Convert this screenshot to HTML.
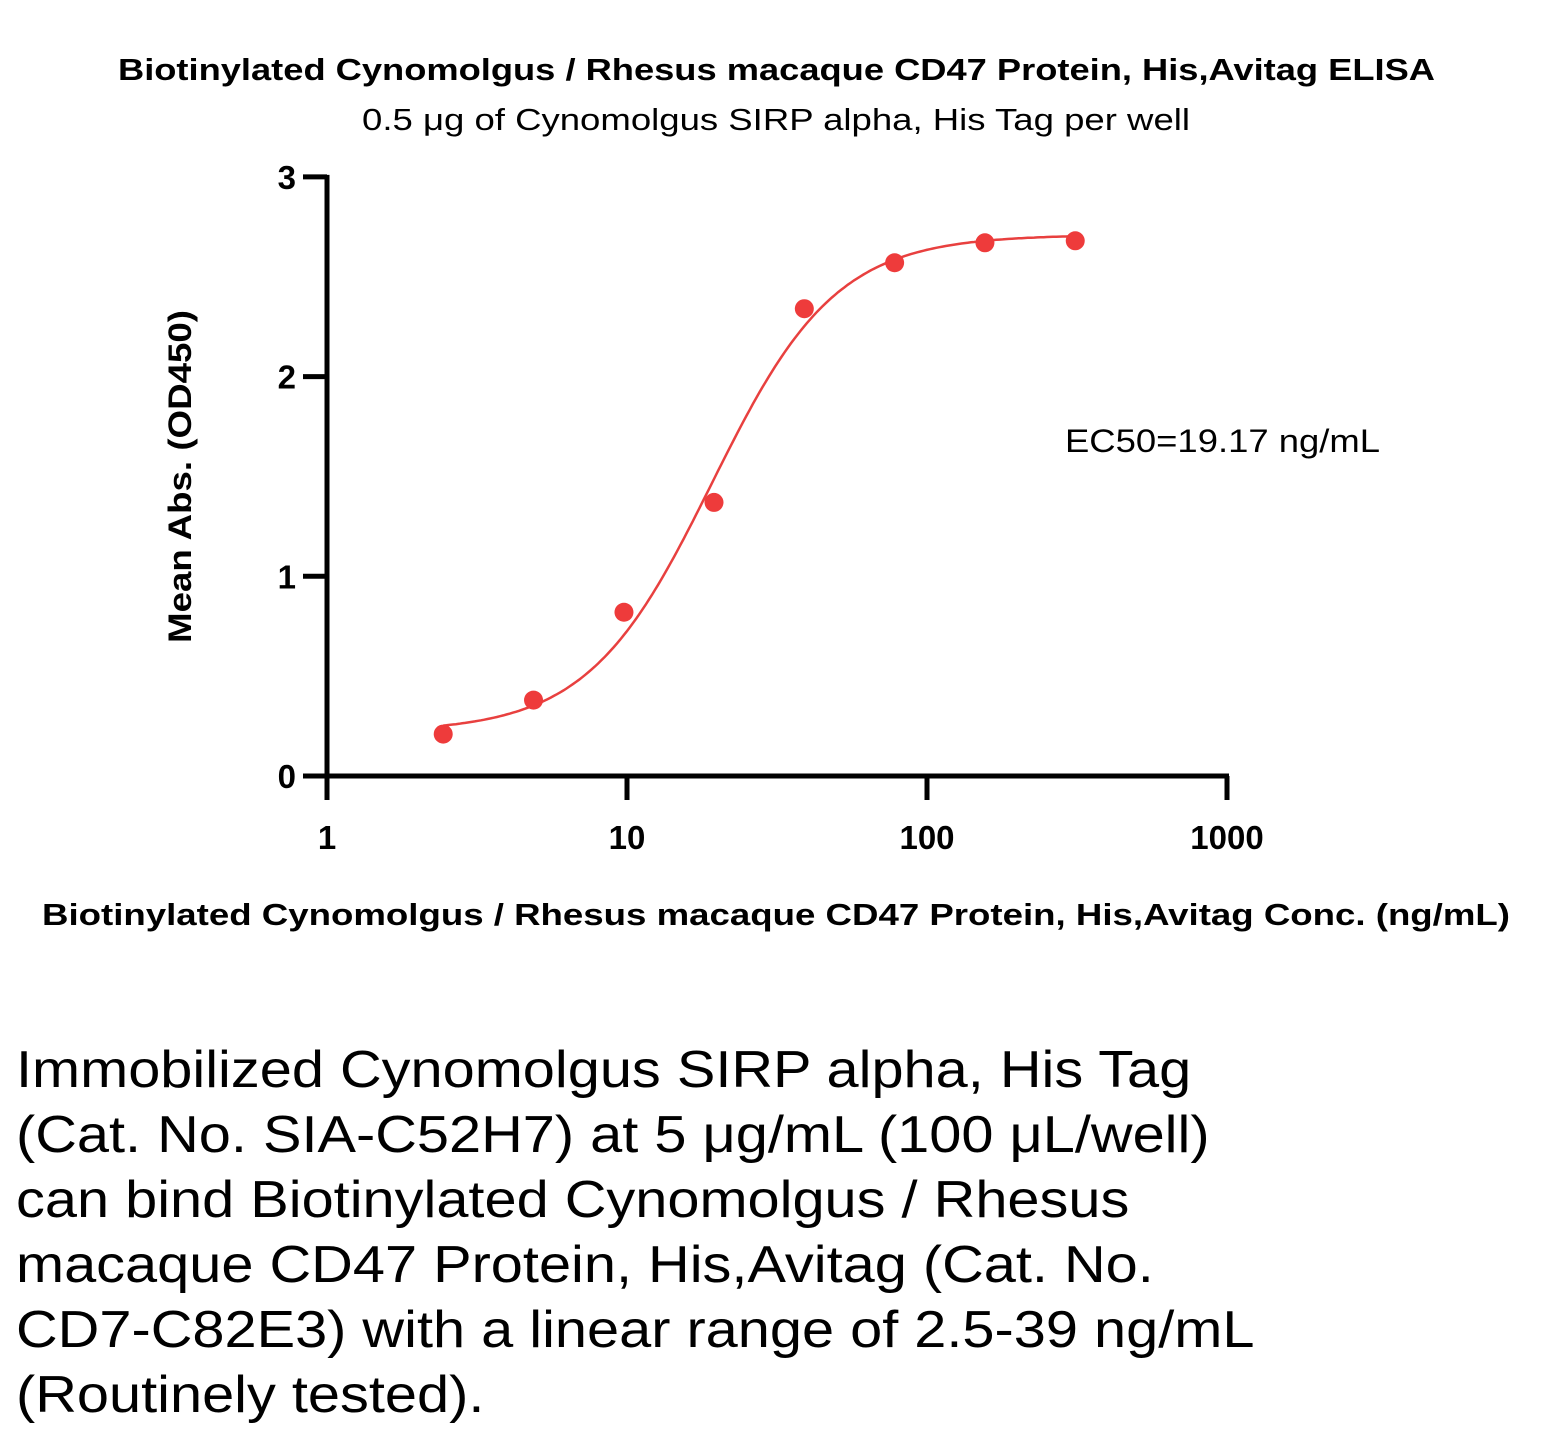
<!DOCTYPE html>
<html><head><meta charset="utf-8"><style>
html,body{margin:0;padding:0;background:#fff;}
body{width:1554px;height:1442px;position:relative;overflow:hidden;font-family:"Liberation Sans",sans-serif;}
.desc{position:absolute;left:16px;top:1038px;font-size:52px;line-height:65px;color:#000;}
.desc div{transform-origin:0 0;transform:scaleX(1.11);white-space:nowrap;}
</style></head><body>
<svg width="1554" height="1000" style="position:absolute;left:0;top:0">
<text x="118" y="80" textLength="1317" lengthAdjust="spacingAndGlyphs" font-size="31" font-weight="bold">Biotinylated Cynomolgus / Rhesus macaque CD47 Protein, His,Avitag ELISA</text>
<text x="362" y="130" textLength="828" lengthAdjust="spacingAndGlyphs" font-size="31">0.5 μg of Cynomolgus SIRP alpha, His Tag per well</text>
<g id="axes"></g>
<g id="marks"></g>
<text x="1065" y="452" textLength="315" lengthAdjust="spacingAndGlyphs" font-size="32">EC50=19.17 ng/mL</text>
<text transform="translate(191,643) rotate(-90)" textLength="333" lengthAdjust="spacingAndGlyphs" font-size="32" font-weight="bold">Mean Abs. (OD450)</text>
<text x="42" y="925" textLength="1468" lengthAdjust="spacingAndGlyphs" font-size="31" font-weight="bold">Biotinylated Cynomolgus / Rhesus macaque CD47 Protein, His,Avitag Conc. (ng/mL)</text>
</svg>
<div class="desc"><div>Immobilized Cynomolgus SIRP alpha, His Tag</div><div>(Cat. No. SIA-C52H7) at 5 μg/mL (100 μL/well)</div><div>can bind Biotinylated Cynomolgus / Rhesus</div><div>macaque CD47 Protein, His,Avitag (Cat. No.</div><div>CD7-C82E3) with a linear range of 2.5-39 ng/mL</div><div>(Routinely tested).</div></div>
<script>
const concentrations=[2.44,4.88,9.77,19.5,39,78,156,312];
const absorbance=[0.21,0.38,0.82,1.37,2.34,2.57,2.67,2.68];
const xTicks=[1,10,100,1000];
const yTicks=[0,1,2,3];
const fitBottom=0.22, fitTop=2.71, fitEC50=19.17, fitHill=2.1;
const NS='http://www.w3.org/2000/svg';
function xs(v){return 327+300*Math.log10(v);}
function ys(v){return 776-199.7*v;}
function mk(tag,attrs,parent){const e=document.createElementNS(NS,tag);for(const k in attrs)e.setAttribute(k,attrs[k]);parent.appendChild(e);return e;}
const ax=document.getElementById('axes'), mg=document.getElementById('marks');
let l=mk('line',{x1:327,y1:ys(3)-2,x2:327,y2:800,stroke:'#000','stroke-width':5},ax);


l=mk('line',{x1:303,y1:776,x2:1229,y2:776,stroke:'#000','stroke-width':5},ax);


yTicks.forEach(t=>{
 const y=ys(t);
 const tk=mk('line',{x1:303,y1:y,x2:327,y2:y,stroke:'#000','stroke-width':5},ax);
 
 
 const tx=mk('text',{x:296,y:y+12,'text-anchor':'end','font-size':33,'font-weight':'bold'},ax);
 tx.textContent=t;
 
 
});
xTicks.forEach(t=>{
 const x=xs(t);
 const tk=mk('line',{x1:x,y1:776,x2:x,y2:800,stroke:'#000','stroke-width':5},ax);
 
 
 const tx=mk('text',{x:x,y:849,'text-anchor':'middle','font-size':33,'font-weight':'bold'},ax);
 tx.textContent=t;
 
 
});
function fit(c){return fitBottom+(fitTop-fitBottom)/(1+Math.pow(fitEC50/c,fitHill));}
let d='';const lo=Math.log10(concentrations[0]),hi=Math.log10(concentrations[concentrations.length-1]);
for(let i=0;i<=200;i++){const c=Math.pow(10,lo+(hi-lo)*i/200);d+=(i?'L':'M')+xs(c).toFixed(1)+','+ys(fit(c)).toFixed(1);}
const p=mk('path',{d:d,fill:'none',stroke:'#e8403f','stroke-width':2.5},mg);


concentrations.forEach((c,i)=>{
 const pt=mk('circle',{cx:xs(c),cy:ys(absorbance[i]),r:9.5,fill:'#ee3b3b'},mg);
 
 
});
</script>
</body></html>
